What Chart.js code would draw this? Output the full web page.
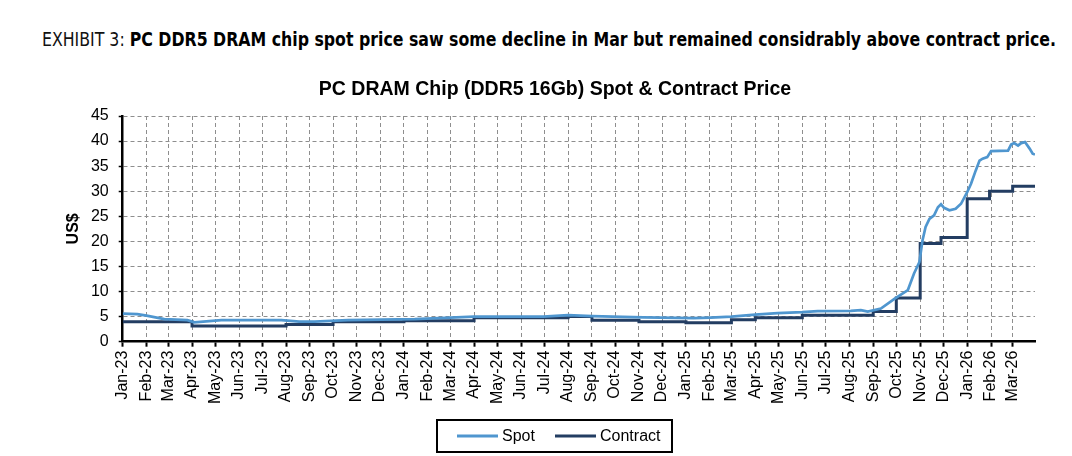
<!DOCTYPE html>
<html>
<head>
<meta charset="utf-8">
<script src="https://cdn.jsdelivr.net/npm/chart.js@4.4.1/dist/chart.umd.min.js"></script>
<style>
html, body { margin: 0; padding: 0; background: #fff; }
body { width: 1072px; height: 456px; position: relative; overflow: hidden; }
#hdr { position: absolute; left: 42px; top: 28px; white-space: nowrap; font-family: "Liberation Sans Narrow", "DejaVu Sans Condensed", sans-serif; font-size: 19.5px; color: #000; transform-origin: 0 0; }
#hdr .lead { font-weight: normal; color: #111; }
#hdr b { font-weight: bold; }
#c { position: absolute; left: 0; top: 0; }
</style>
</head>
<body>
<div id="hdr"><span class="lead">EXHIBIT 3: </span><b>PC DDR5 DRAM chip spot price saw some decline in Mar but remained considrably above contract price.</b></div>
<canvas id="c" width="1072" height="456"></canvas>
<script>
// values (US$ per 16Gb chip)
const spotDates = [
  '2023-01-01', '2023-01-20', '2023-02-01', '2023-02-24', '2023-03-26', '2023-04-04', '2023-05-09',
  '2023-07-26', '2023-08-18', '2023-09-07', '2023-10-20', '2024-01-15', '2024-04-01', '2024-05-18',
  '2024-06-30', '2024-08-01', '2024-09-01', '2024-11-07', '2025-01-11', '2025-02-02', '2025-03-01',
  '2025-04-01', '2025-04-30', '2025-06-01', '2025-06-21', '2025-08-03', '2025-08-16', '2025-08-25',
  '2025-09-11', '2025-09-29', '2025-10-16', '2025-10-24', '2025-10-31', '2025-11-04', '2025-11-08',
  '2025-11-13', '2025-11-19', '2025-11-24', '2025-11-28', '2025-12-02', '2025-12-09', '2025-12-17',
  '2025-12-24', '2026-01-01', '2026-01-06', '2026-01-12', '2026-01-17', '2026-01-21', '2026-01-27',
  '2026-02-01', '2026-02-23', '2026-02-27', '2026-03-03', '2026-03-08', '2026-03-12', '2026-03-17',
  '2026-03-23', '2026-03-27', '2026-03-30'
];
const spotValues = [
  5.6, 5.5, 5.2, 4.5, 4.3, 3.85, 4.3,
  4.3, 4.0, 4.0, 4.3, 4.5, 5.0, 5.0,
  5.0, 5.3, 5.1, 4.85, 4.7, 4.8, 5.0,
  5.4, 5.7, 5.9, 6.1, 6.15, 6.3, 6.0,
  6.6, 8.6, 10.3, 13.6, 15.9, 20.2, 22.9,
  24.5, 25.2, 26.8, 27.4, 26.7, 26.2, 26.5,
  27.5, 29.8, 31.5, 34.1, 36.1, 36.5, 36.8,
  38.0, 38.1, 39.3, 39.6, 39.1, 39.6, 39.8,
  38.5, 37.5, 37.3
];

const contractDates = [
  '2023-01-01', '2023-04-01', '2023-08-01', '2023-10-01', '2024-01-01', '2024-04-01', '2024-08-01',
  '2024-09-01', '2024-11-01', '2025-01-01', '2025-03-01', '2025-04-01', '2025-06-01', '2025-09-01',
  '2025-10-01', '2025-11-01', '2025-11-28', '2026-01-01', '2026-01-30', '2026-03-01', '2026-03-30'
];
const contractValues = [
  4.0, 3.15, 3.45, 4.0, 4.2, 4.8, 5.0,
  4.3, 4.0, 3.8, 4.4, 4.8, 5.25, 6.0,
  8.7, 19.6, 20.8, 28.5, 30.0, 31.0, 31.0
];

const monthLabels = [
  'Jan-23', 'Feb-23', 'Mar-23', 'Apr-23', 'May-23', 'Jun-23', 'Jul-23', 'Aug-23', 'Sep-23', 'Oct-23', 'Nov-23', 'Dec-23',
  'Jan-24', 'Feb-24', 'Mar-24', 'Apr-24', 'May-24', 'Jun-24', 'Jul-24', 'Aug-24', 'Sep-24', 'Oct-24', 'Nov-24', 'Dec-24',
  'Jan-25', 'Feb-25', 'Mar-25', 'Apr-25', 'May-25', 'Jun-25', 'Jul-25', 'Aug-25', 'Sep-25', 'Oct-25', 'Nov-25', 'Dec-25',
  'Jan-26', 'Feb-26', 'Mar-26'
];
const xStart = '2023-01-01';
const xEnd = '2026-03-30';
const yMax = 45;
const yStep = 5;

const SPOT_COLOR = '#4f96cf';
const CONTRACT_COLOR = '#233d62';
const GRID_COLOR = '#8e8e8e';
const FONT = '"Liberation Sans", Arial, sans-serif';

const MONTHS = ['Jan', 'Feb', 'Mar', 'Apr', 'May', 'Jun', 'Jul', 'Aug', 'Sep', 'Oct', 'Nov', 'Dec'];
const toMs = s => Date.parse(s + 'T00:00:00Z');
const tickValues = monthLabels.map(l => Date.UTC(2000 + Number(l.slice(4)), MONTHS.indexOf(l.slice(0, 3)), 1));

const spot = spotDates.map((d, i) => ({ x: toMs(d), y: spotValues[i] }));
const contract = contractDates.map((d, i) => ({ x: toMs(d), y: contractValues[i] }));

// squeeze the condensed headline to the width it has in the exhibit
const hdr = document.getElementById('hdr');
hdr.style.transform = 'scaleX(' + (1014 / hdr.getBoundingClientRect().width) + ')';

// chart title + boxed legend, drawn like the Excel original
const framePlugin = {
  id: 'frame',
  afterDraw(chart) {
    const ctx = chart.ctx;
    ctx.save();
    ctx.fillStyle = '#000';
    ctx.textBaseline = 'middle';
    ctx.textAlign = 'center';
    ctx.font = 'bold 19.5px ' + FONT;
    ctx.fillText('PC DRAM Chip (DDR5 16Gb) Spot & Contract Price', 555, 90);

    const bx = 437, by = 420, bw = 235, bh = 32, my = by + bh / 2;
    ctx.lineWidth = 2;
    ctx.strokeStyle = '#000';
    ctx.strokeRect(bx, by, bw, bh);

    ctx.font = '16px ' + FONT;
    ctx.textAlign = 'left';
    const items = [[457, chart.data.datasets[0]], [555, chart.data.datasets[1]]];
    items.forEach(([x, ds]) => {
      ctx.beginPath();
      ctx.strokeStyle = ds.borderColor;
      ctx.lineWidth = 3;
      ctx.moveTo(x, my);
      ctx.lineTo(x + 41, my);
      ctx.stroke();
      ctx.fillText(ds.label, x + 45, my + 1);
    });
    ctx.restore();
  }
};

new Chart(document.getElementById('c'), {
  type: 'line',
  data: {
    datasets: [
      { label: 'Spot', data: spot, borderColor: SPOT_COLOR, borderWidth: 2.7, pointRadius: 0, tension: 0 },
      { label: 'Contract', data: contract, borderColor: CONTRACT_COLOR, borderWidth: 3, pointRadius: 0, stepped: 'before' }
    ]
  },
  options: {
    responsive: false,
    animation: false,
    layout: { padding: { left: 38, right: 37, top: 116, bottom: 44.3 } },
    plugins: { legend: { display: false }, tooltip: { enabled: false }, title: { display: false } },
    scales: {
      x: {
        type: 'linear',
        min: toMs(xStart),
        max: toMs(xEnd),
        afterBuildTicks: ax => { ax.ticks = tickValues.map(v => ({ value: v })); },
        afterFit: ax => { ax.height = 70; },
        ticks: {
          autoSkip: false, minRotation: 90, maxRotation: 90, padding: 4, color: '#000',
          font: { family: FONT, size: 16 },
          callback: v => monthLabels[tickValues.indexOf(v)]
        },
        grid: {
          color: c => (c.tick && c.tick.value === tickValues[0]) ? 'rgba(0,0,0,0)' : GRID_COLOR,
          lineWidth: 1, tickColor: '#000', tickLength: 5, tickWidth: 2
        },
        border: { color: '#000', width: 2.5, dash: [4, 3] }
      },
      y: {
        min: 0,
        max: yMax,
        afterFit: ax => { ax.width = 84.7; },
        ticks: { stepSize: yStep, padding: 10, color: '#000', font: { family: FONT, size: 16 } },
        grid: {
          color: c => (c.tick && c.tick.value === 0) ? 'rgba(0,0,0,0)' : GRID_COLOR,
          lineWidth: 1, tickColor: '#000', tickLength: 4, tickWidth: 1.5
        },
        border: { color: '#000', width: 2.5, dash: [4, 3] },
        title: { display: true, text: 'US$', color: '#000', font: { family: FONT, size: 16, weight: 'bold' }, padding: { top: 26, bottom: 4 } }
      }
    }
  },
  plugins: [framePlugin]
});
</script>
</body>
</html>
